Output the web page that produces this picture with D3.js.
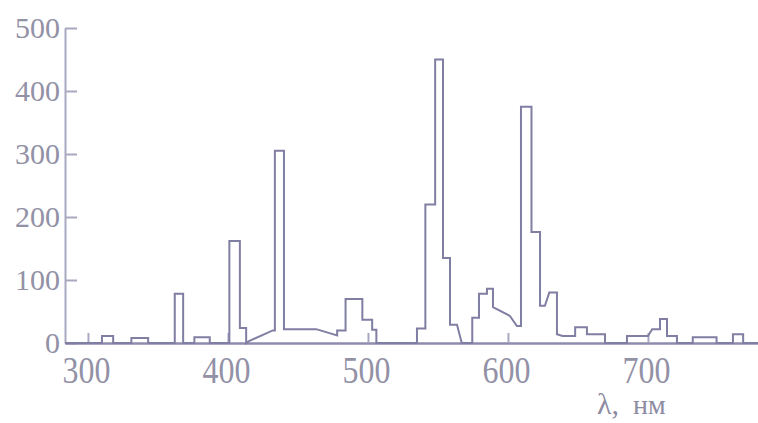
<!DOCTYPE html>
<html>
<head>
<meta charset="utf-8">
<script src="https://cdn.jsdelivr.net/npm/d3@7"></script>
<style>
  body { margin: 0; background: #ffffff; }
  svg { display: block; }
  text { font-family: "Liberation Serif", "DejaVu Serif", serif; fill: #8d8ca2; }
</style>
</head>
<body>
<svg id="chart" width="758" height="423"></svg>
<script>
// spectrum outline, vertices as (wavelength nm, intensity)
var wavelengths = [283.6,
  310, 310, 318, 318,
  331, 331, 343, 343,
  362, 362, 368, 368,
  376, 376, 387, 387,
  401, 401, 408.5, 408.5, 413, 413,
  415, 432,
  433.5, 433.5, 440, 440, 463, 478, 478, 484, 484, 496, 496, 503, 503, 506, 506,
  535, 535, 541, 541, 548, 548, 553.6, 553.6, 558.6, 558.6, 563.6, 567,
  574.5, 574.5, 579.3, 579.3, 585, 585, 589.3, 589.3, 601.4, 606.4, 609.3, 609.3,
  616.8, 616.8, 622.9, 622.9, 626.4, 629.5, 635, 635, 639, 648, 648, 656.4, 656.4, 669.3, 669.3,
  685, 685, 700, 703, 708.6, 708.6, 713.6, 713.6, 720.7, 720.7,
  732, 732, 749, 749,
  760.7, 760.7, 768, 768,
  778.6];
var intensities = [0,
  0, 11, 11, 0,
  0, 8, 8, 0,
  0, 78, 78, 0,
  0, 9, 9, 0,
  0, 162, 162, 24, 24, 0,
  3, 20,
  20, 305, 305, 22, 22, 12, 20, 20, 70, 70, 37, 37, 21, 21, 0,
  0, 23, 23, 220, 220, 450, 450, 135, 135, 29, 29, 0,
  0, 40, 40, 78, 78, 86, 86, 57, 43, 27, 27, 375,
  375, 176, 176, 59, 59, 80, 80, 14, 11, 11, 25, 25, 14, 14, 0,
  0, 11, 11, 22, 22, 38, 38, 11, 11, 0,
  0, 9, 9, 0,
  0, 14, 14, 0,
  0];
var xTicks = [300, 400, 500, 600, 700];
var yTicks = [0, 100, 200, 300, 400, 500];

var svg = d3.select("#chart");
var x = d3.scaleLinear().domain([283.6, 778.6]).range([65, 758]);
var y = d3.scaleLinear().domain([0, 500]).range([343, 28]);

// y axis, ticks pointing inward
var yAxis = svg.append("g")
  .attr("transform", "translate(65,0)")
  .call(d3.axisLeft(y).tickValues(yTicks).tickSize(-12).tickSizeOuter(0).tickPadding(5));
yAxis.select(".domain").attr("stroke", "#a9a8c2").attr("stroke-width", 2);
yAxis.selectAll(".tick line").attr("stroke", "#a9a8c2").attr("stroke-width", 2);
yAxis.selectAll(".tick text")
  .attr("font-size", 30).attr("dy", "0.33em").style("fill", "#9291a6");

// x axis, ticks pointing up
var xAxis = svg.append("g")
  .attr("transform", "translate(0,343)")
  .call(d3.axisBottom(x).tickValues(xTicks).tickSize(-10).tickSizeOuter(0));
xAxis.select(".domain").attr("stroke", "#8e8cac").attr("stroke-width", 2.5);
xAxis.selectAll(".tick line").attr("stroke", "#a9a8c2").attr("stroke-width", 2);
xAxis.selectAll(".tick text")
  .attr("font-size", 32).attr("y", 0).attr("dy", 0)
  .attr("transform", "translate(-2,40) scale(1,1.2)")
  .style("fill", "#9291a6");

// spectrum line
var line = d3.line()
  .x(function(d) { return x(d[0]); })
  .y(function(d) { return y(d[1]); });
var pts = wavelengths.map(function(w, i) { return [w, intensities[i]]; });
svg.append("path")
  .datum(pts)
  .attr("fill", "none")
  .attr("stroke", "#807ea2")
  .attr("stroke-width", 2)
  .attr("stroke-linejoin", "miter")
  .attr("d", line);

// axis title
var title = svg.append("text").attr("x", 597).attr("y", 414).attr("font-size", 30);
title.append("tspan").text("λ,");
title.append("tspan").attr("dx", 14).attr("font-size", 28).text("нм");
</script>
</body>
</html>
